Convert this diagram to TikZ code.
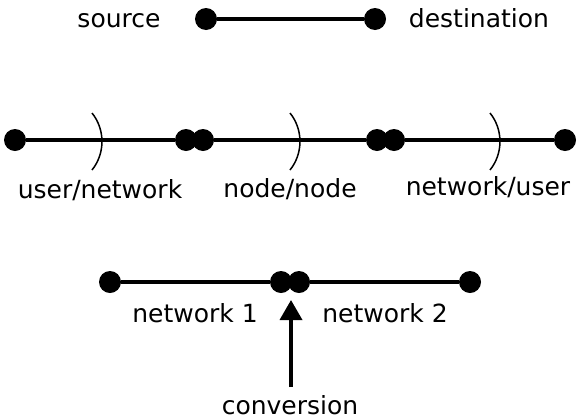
\documentclass[tikz,border=0pt]{standalone}
\usepackage{fontspec}
\setmainfont{DejaVu Sans}
\usetikzlibrary{arrows.meta}
\begin{document}
\begin{tikzpicture}[x=0.5pt,y=-0.5pt,
  dot/.style={circle,fill=black,inner sep=0pt,minimum size=11pt},
  link/.style={line width=1.8pt},
  cut/.style={line width=0.75pt},
  lbl/.style={anchor=base,inner sep=0pt,font=\fontsize{12.5}{15}\selectfont}]
\useasboundingbox (0,0) rectangle (577,418);

% end-to-end connection
\node[dot] (src) at (206,19) {};
\node[dot] (dst) at (375,19) {};
\draw[link] (src) -- (dst);
\node[lbl] (srcl) at (119,27) {source};
\node[lbl] (dstl) at (479,27) {destination};

% three hops with interfaces
\node[dot] (u1)  at (15,140) {};
\node[dot] (n1a) at (186,140) {};
\node[dot] (n1b) at (203,140) {};
\node[dot] (n2a) at (377,140) {};
\node[dot] (n2b) at (394,140) {};
\node[dot] (u2)  at (565,140) {};
\draw[link] (u1) -- (n1a);
\draw[link] (n1b) -- (n2a);
\draw[link] (n2b) -- (u2);
\foreach \cx in {92,290,490}
  \draw[cut] (\cx,113) .. controls (\cx+13.3,129.6) and (\cx+13.3,153.4) .. (\cx,170);
\node[lbl] (unl) at (100,198) {user/network};
\node[lbl] (nnl) at (290,197) {node/node};
\node[lbl] (nul) at (488,195) {network/user};

% two networks joined by a conversion
\node[dot] (a1) at (110,282) {};
\node[dot] (c1) at (281,282) {};
\node[dot] (c2) at (299,282) {};
\node[dot] (a2) at (470,282) {};
\draw[link] (a1) -- (c1);
\draw[link] (c2) -- (a2);
\node[lbl] (net1) at (195,322) {network 1};
\node[lbl] (net2) at (385,322) {network 2};
\node[lbl] (conv) at (290,414) {conversion};
\coordinate (convfoot) at (291,387);
\coordinate (convtip) at (291,300);
\draw[link,-{Triangle[width=11pt,length=10pt]}] (convfoot) -- (convtip);
\end{tikzpicture}
\end{document}
